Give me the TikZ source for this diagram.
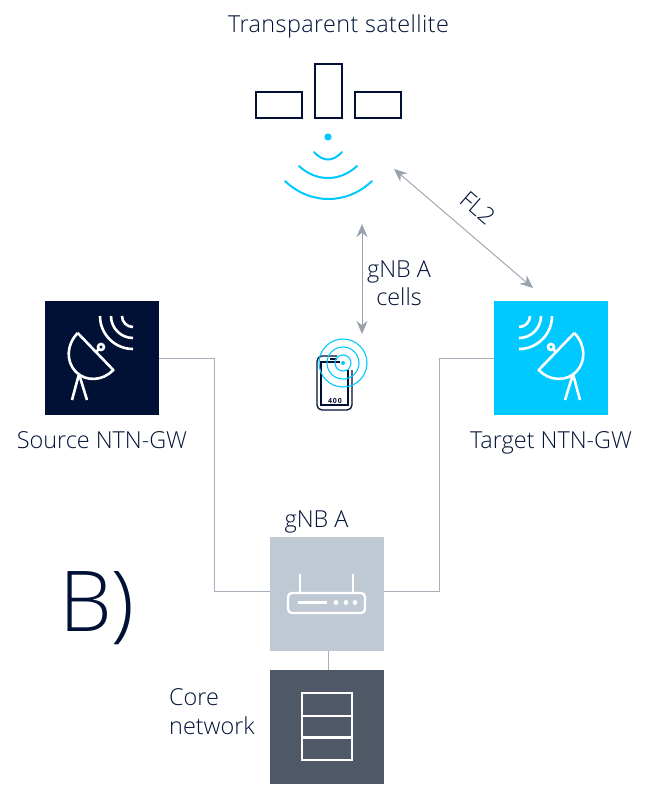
\documentclass[tikz,border=0pt]{standalone}
\usepackage{fontspec}
\setmainfont{Open Sans}
\newfontfamily\lightfont{Open Sans Light}
\usetikzlibrary{arrows.meta}
\definecolor{navy}{HTML}{001135}
\definecolor{cyanb}{HTML}{00C9FF}
\definecolor{linkg}{HTML}{A7AFBA}
\definecolor{arrowg}{HTML}{98A2AE}
\definecolor{gnbbg}{HTML}{BFC9D4}
\definecolor{corebg}{HTML}{4E5866}
\tikzset{
  lbl/.style={text=navy,font=\lightfont\fontsize{23.4}{26}\selectfont,inner sep=0pt,anchor=base},
  box/.style={minimum width=#1,minimum height=#1,inner sep=0pt,outer sep=0pt,draw=none},
  link/.style={draw=linkg,line width=0.9pt},
  dbl/.style={draw=arrowg,line width=0.9pt,{Stealth[length=13pt,width=11pt]}-{Stealth[length=13pt,width=11pt]}},
  panel/.style={draw=navy,line width=2pt,fill=white},
  wave/.style={draw=cyanb,line width=2pt,line cap=round},
  icon/.style={draw=white,line width=2.6pt},
}
\newcommand{\dishicon}{%
  \draw[icon,line join=round] (77.7,333) -- (113.3,370) .. controls (103,381) and (86,382) .. (76,372) .. controls (66,362) and (66,345) .. (77.7,333);
  \draw[icon] (101,347) circle (3);
  \draw[icon] (98.5,349.5) -- (95.5,352.5);
  \draw[icon] (79,374) -- (72,400) (79,374) -- (87,400);
  \draw[icon] (100,316) arc[start angle=180,end angle=90,radius=33];
  \draw[icon] (111,316) arc[start angle=180,end angle=90,radius=22];
  \draw[icon] (122,316) arc[start angle=180,end angle=90,radius=11];
}
\begin{document}
\begin{tikzpicture}[x=1pt,y=-1pt]
\useasboundingbox (0,0) rectangle (650,801);
% satellite
\node[lbl] (title) at (338.5,32) {\addfontfeature{LetterSpace=1.8}Transparent satellite};
\node[panel,minimum width=46pt,minimum height=26pt,inner sep=0pt] (panelL) at (278.5,104.5) {};
\node[panel,minimum width=27pt,minimum height=54pt,inner sep=0pt] (panelC) at (328,90.5) {};
\node[panel,minimum width=46pt,minimum height=26pt,inner sep=0pt] (panelR) at (377.5,104.5) {};
\fill[cyanb] (328,137) circle (3.6);
\draw[wave] (314,152) .. controls (323,162) and (333,162) .. (342,152);
\draw[wave] (299,166) .. controls (316,182) and (340,182) .. (357,166);
\draw[wave] (285,181) .. controls (310,205) and (347,205) .. (372,181);
% squares
\node[box=114pt,fill=navy,anchor=north west] (src) at (45,301) {};
\node[box=114pt,fill=cyanb,anchor=north west] (tgt) at (494,301) {};
\node[box=113.5pt,fill=gnbbg,anchor=north west] (gnb) at (270,537) {};
\node[box=113.5pt,fill=corebg,anchor=north west] (core) at (270,670) {};
% icons
\dishicon
\begin{scope}[xshift=652pt,xscale=-1]
\dishicon
\end{scope}
% router
\draw[icon,rounded corners=4pt,line width=2.4pt] (288,593) rectangle (365,613);
\draw[icon,line width=2.4pt] (300,593) -- (300,574) (353,593) -- (353,574);
\draw[icon,line width=2.6pt] (298,602.5) -- (327,602.5);
\fill[white] (336,602.5) circle (2.4) (346,602.5) circle (2.4) (355,602.5) circle (2.4);
% server
\draw[icon,line width=2.4pt] (302,693) rectangle (352,760) (302,716) -- (352,716) (302,737.5) -- (352,737.5);
% links
\coordinate (srcbend) at (214,358);
\coordinate (srcbend2) at (214,591);
\coordinate (tgtbend) at (439,358);
\coordinate (tgtbend2) at (439,591);
\coordinate (coretop) at (328,670);
\coordinate (gnbbot) at (328,650.5);
\draw[link] (src.east |- srcbend) -- (srcbend) -- (srcbend2) -- (gnb.west |- srcbend2);
\draw[link] (tgt.west |- tgtbend) -- (tgtbend) -- (tgtbend2) -- (gnb.east |- tgtbend2);
\draw[link] (gnbbot) -- (coretop);
% arrows
\coordinate (a1) at (394,169);
\coordinate (a2) at (533,288);
\coordinate (b1) at (362,224);
\coordinate (b2) at (362,334);
\draw[dbl] (a1) -- (a2);
\draw[dbl] (b1) -- (b2);
% phone
\begin{scope}[navy,line width=1.3pt]
\draw[navy,rounded corners=5pt] (337,356) -- (317,356) -- (317,410) -- (352,410) -- (352,370);
\draw[navy] (340,362) -- (321,362) -- (321,405) -- (348,405) -- (348,370);
\draw[navy] (330,359) -- (337,359);
\end{scope}
\node[text=navy,font=\bfseries\fontsize{7}{7}\selectfont,inner sep=0pt] (btn) at (335,401) {\addfontfeature{LetterSpace=12}400};
\draw[cyanb,line width=1.1pt] (343,363) circle (8) circle (16) circle (24);
\fill[cyanb] (343,363) circle (2);
% labels
\node[lbl,anchor=center,rotate=-41] (fl2) at (478,208) {FL2};
\node[lbl] (cellsA) at (399,277) {gNB A};
\node[lbl] (cellsB) at (399,305.5) {cells};
\node[lbl] (srcl) at (102,448.5) {Source NTN-GW};
\node[lbl] (tgtl) at (551,448.5) {Target NTN-GW};
\node[lbl] (gnbl) at (316.5,527) {gNB A};
\node[lbl,anchor=base west] (corel) at (169,705.5) {Core};
\node[lbl,anchor=base west] (netl) at (169,734.5) {network};
\node[text=navy,font=\lightfont\fontsize{84}{88}\selectfont,inner sep=0pt] (bl) at (97,608) {B)};
\end{tikzpicture}
\end{document}
